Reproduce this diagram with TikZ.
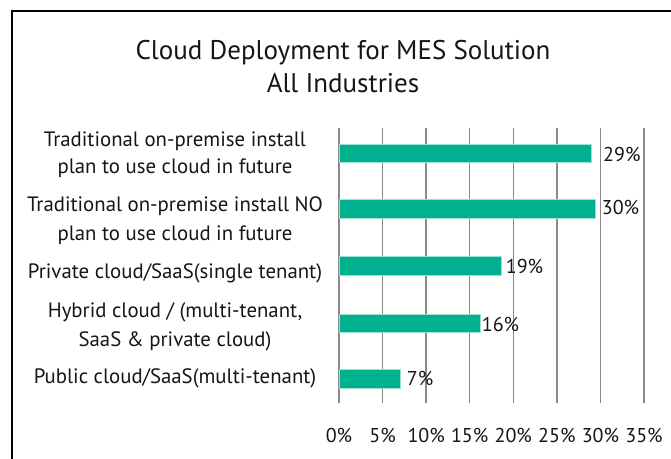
\documentclass[tikz,border=0pt]{standalone}
\usepackage{fontspec}
\setmainfont{PT Sans}
\definecolor{barteal}{RGB}{0,177,143}
\definecolor{baredge}{RGB}{160,224,210}
\definecolor{gridgray}{RGB}{138,138,138}
\definecolor{ink}{RGB}{22,22,22}
\begin{document}
\begin{tikzpicture}[x=1pt,y=-1pt,
  titletext/.style={font=\fontsize{27}{32}\selectfont, text=ink, inner sep=0pt, anchor=base},
  cattext/.style={font=\fontsize{20.8}{24}\selectfont, text=ink, inner sep=0pt, anchor=base},
  valtext/.style={font=\fontsize{20}{24}\selectfont, text=ink, inner sep=0pt, anchor=base west},
  ticktext/.style={font=\fontsize{20}{24}\selectfont, text=ink, inner sep=0pt, anchor=base},
  gridline/.style={draw=gridgray, line width=1.3pt},
  barbox/.style={fill=barteal, draw=baredge, line width=0.7pt},
  frameline/.style={draw=black, line width=2pt}]
\useasboundingbox (0,0) rectangle (671,458);
\fill[white] (0,0) rectangle (671,458);

% outer frame (runs off the page on the right and bottom)
\draw[frameline] (11.5,470) -- (11.5,10.5) -- (690,10.5);

% title
\node[titletext] (title1) at (343,59.3) {Cloud Deployment for MES Solution};
\node[titletext] (title2) at (343,92.7) {All Industries};

% vertical grid lines every 5%
\foreach \i in {0,...,7}{
  \coordinate (gtop\i) at ({339+\i*43.57},128);
  \coordinate (gbot\i) at ({339+\i*43.57},403);
  \draw[gridline] (gtop\i) -- (gbot\i);
}

% bars
\draw[barbox] (339.6,144) rectangle (591.7,162.3);
\draw[barbox] (339.6,199.3) rectangle (595.3,218);
\draw[barbox] (339.6,256) rectangle (501.7,275);
\draw[barbox] (339.6,314) rectangle (480.3,332.3);
\draw[barbox] (339.6,369.3) rectangle (400.7,388);

% value labels
\node[valtext] (v1) at (603,161.7) {29\%};
\node[valtext] (v2) at (601.7,214.3) {30\%};
\node[valtext] (v3) at (505.7,273.3) {19\%};
\node[valtext] (v4) at (481.7,331) {16\%};
\node[valtext] (v5) at (406.7,385.7) {7\%};

% category labels
\node[cattext] (c1a) at (175,146) {Traditional on-premise install};
\node[cattext] (c1b) at (175,173.3) {plan to use cloud in future};
\node[cattext] (c2a) at (175,211.7) {Traditional on-premise install NO};
\node[cattext] (c2b) at (175,240) {plan to use cloud in future};
\node[cattext] (c3) at (175,278.3) {Private cloud/SaaS(single tenant)};
\node[cattext] (c4a) at (175,317.3) {Hybrid cloud / (multi-tenant,};
\node[cattext] (c4b) at (175,346) {SaaS \& private cloud)};
\node[cattext] (c5) at (175,383.3) {Public cloud/SaaS(multi-tenant)};

% axis tick labels
\foreach \i/\t in {0/0\%,1/5\%,2/10\%,3/15\%,4/20\%,5/25\%,6/30\%,7/35\%}{
  \node[ticktext] (t\i) at ({339+\i*43.57},442.7) {\t};
}
\end{tikzpicture}
\end{document}
